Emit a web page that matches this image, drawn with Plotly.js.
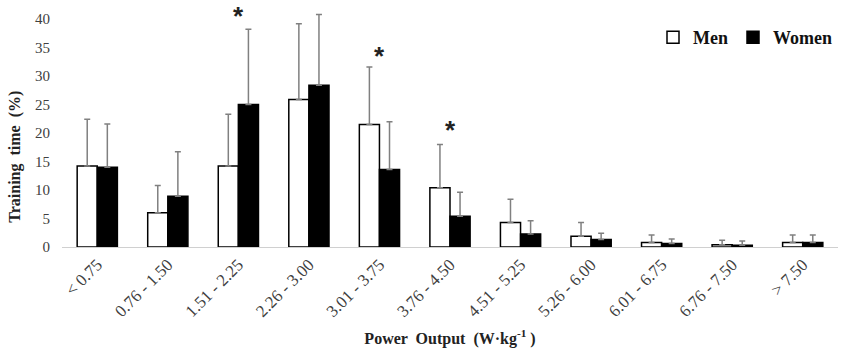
<!DOCTYPE html>
<html>
<head>
<meta charset="utf-8">
<script src="https://cdn.plot.ly/plotly-3.0.1.min.js"></script>
<style>html,body{margin:0;padding:0;background:#fff;}#chart{width:850px;height:357px;}</style>
</head>
<body>
<div id="chart"></div>
<script>
var categories = ["< 0.75", "0.76 - 1.50", "1.51 - 2.25", "2.26 - 3.00", "3.01 - 3.75", "3.76 - 4.50", "4.51 - 5.25", "5.26 - 6.00", "6.01 - 6.75", "6.76 - 7.50", "> 7.50"];
var menMean = [14.2, 6.0, 14.2, 25.9, 21.5, 10.4, 4.3, 1.9, 0.8, 0.4, 0.8];
var menSD = [8.2, 4.8, 9.1, 13.3, 10.1, 7.6, 4.1, 2.4, 1.3, 0.8, 1.3];
var womenMean = [14.0, 8.9, 25.0, 28.4, 13.6, 5.4, 2.3, 1.3, 0.6, 0.3, 0.8];
var womenSD = [7.6, 7.8, 13.2, 12.4, 8.4, 4.2, 2.3, 1.1, 0.8, 0.75, 1.3];
var yTicks = [0, 5, 10, 15, 20, 25, 30, 35, 40];
var sigCategories = ["1.51 - 2.25", "3.01 - 3.75", "3.76 - 4.50"];
var sigHeights = [40.6, 33.6, 20.6];

var zeros = categories.map(function(){return 0;});
var serif = "Liberation Serif, Times New Roman, serif";

var traces = [
  {type: "bar", name: "<b>Men</b>", x: categories, y: menMean,
   marker: {color: "#ffffff", line: {color: "#000000", width: 1.5}},
   error_y: {type: "data", symmetric: false, array: menSD, arrayminus: zeros, color: "#808080", thickness: 1.5, width: 3}},
  {type: "bar", name: "<b>Women</b>", x: categories, y: womenMean,
   marker: {color: "#000000", line: {color: "#000000", width: 1.5}},
   error_y: {type: "data", symmetric: false, array: womenSD, arrayminus: zeros, color: "#808080", thickness: 1.5, width: 3}}
];

var annotations = sigCategories.map(function(c, i){
  return {x: c, y: sigHeights[i], xref: "x", yref: "y", text: "<b>*</b>", showarrow: false,
          font: {family: "Liberation Sans, Arial, sans-serif", size: 26, color: "#222"}, yanchor: "middle"};
});
annotations.push({xref: "paper", yref: "paper", x: -0.06, y: 0.37, text: "<b>Training  time  (%)</b>",
  textangle: -90, showarrow: false, font: {family: serif, size: 16, color: "#222"}, xanchor: "center", yanchor: "middle"});

var layout = {
  width: 850, height: 357,
  margin: {l: 62, r: 12, t: 2, b: 110},
  paper_bgcolor: "#ffffff", plot_bgcolor: "#ffffff",
  barmode: "group", bargap: 0.43, bargroupgap: 0,
  showlegend: true,
  legend: {orientation: "h", x: 1.0, xanchor: "right", y: 0.855, yanchor: "middle",
           font: {family: serif, size: 18, color: "#111"}, itemwidth: 30, tracegroupgap: 0, bgcolor: "rgba(0,0,0,0)"},
  xaxis: {
    type: "category", tickangle: -45, showline: true, linecolor: "#d0d0d0", linewidth: 1,
    showgrid: false, zeroline: false, ticks: "", tickfont: {family: serif, size: 17, color: "#404040"},
    title: {text: "<b>Power  Output  (W·kg<sup>-1</sup> )</b>", font: {family: serif, size: 16, color: "#222"}, standoff: 12}
  },
  yaxis: {
    range: [0, 43], tickvals: yTicks, ticktext: yTicks.map(String), showgrid: false, zeroline: false, showline: false,
    ticks: "outside", ticklen: 8, tickcolor: "rgba(0,0,0,0)", tickfont: {family: serif, size: 15, color: "#404040"}
  },
  annotations: annotations
};

Plotly.newPlot("chart", traces, layout, {displayModeBar: false, staticPlot: true});
</script>
</body>
</html>
